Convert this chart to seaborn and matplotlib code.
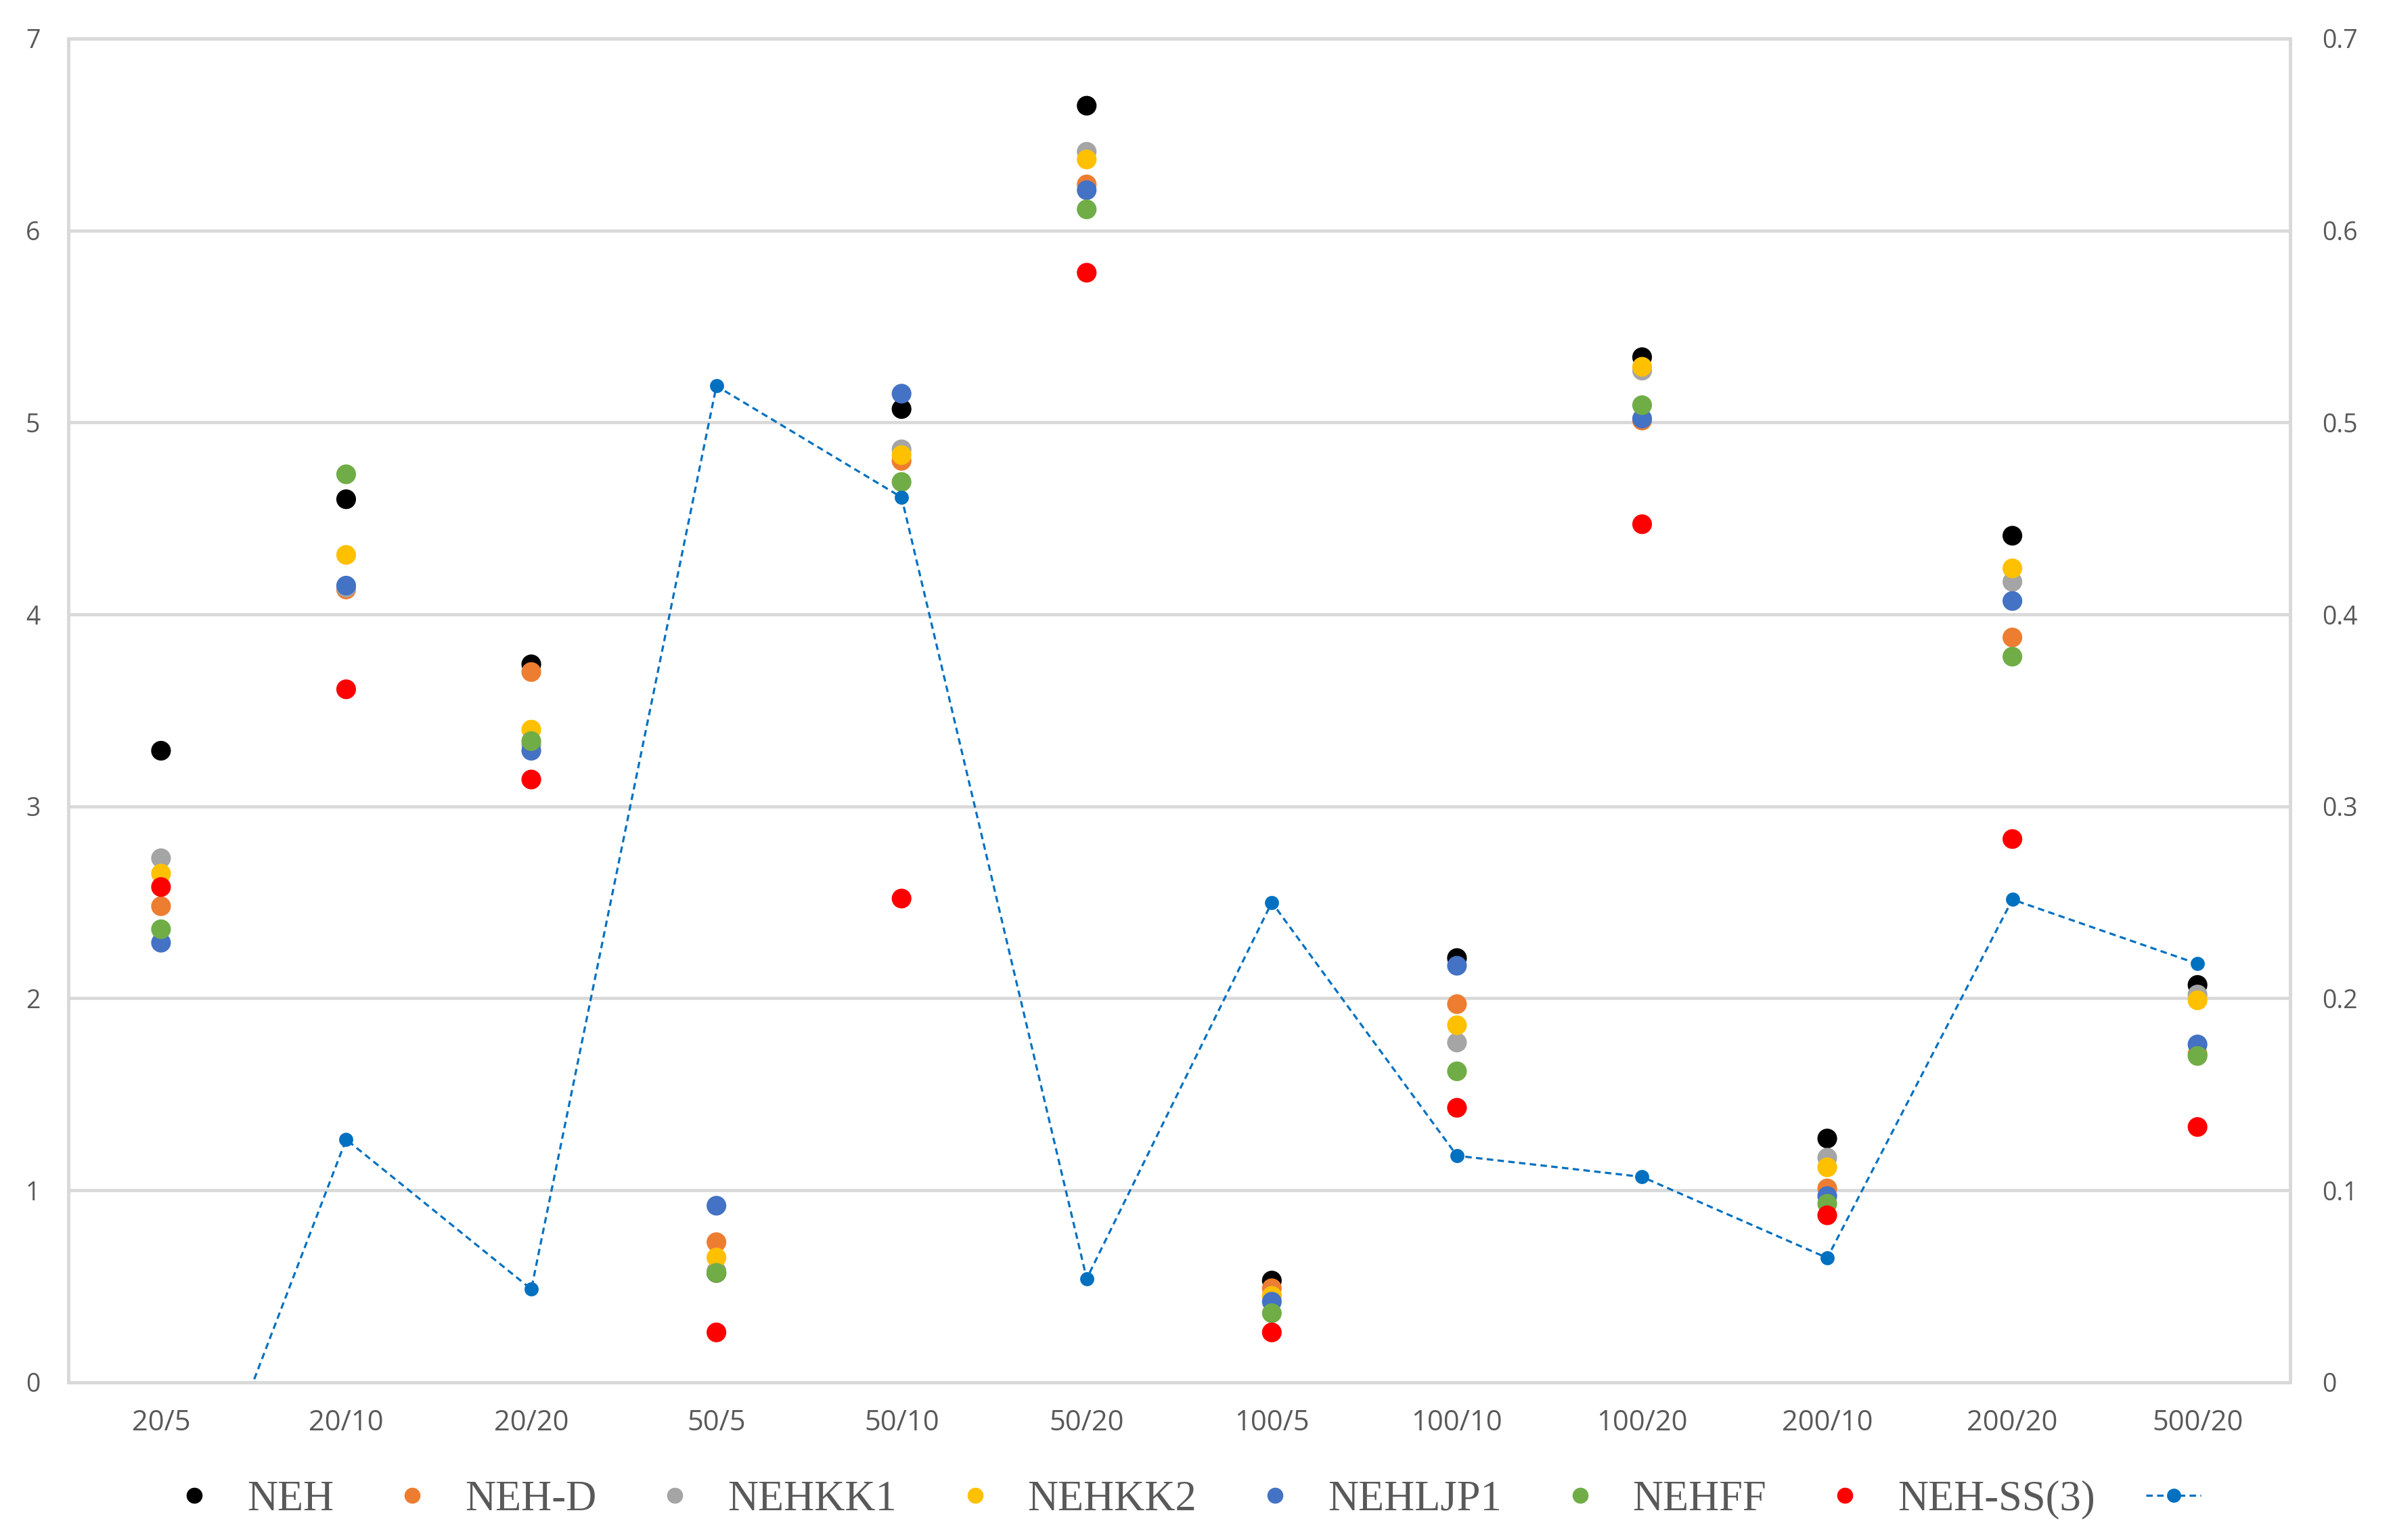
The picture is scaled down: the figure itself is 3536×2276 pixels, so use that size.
import numpy as np
import pandas as pd
import seaborn as sns
import matplotlib.pyplot as plt
from matplotlib.lines import Line2D

# ------------------------------------------------------------------
# data
# ------------------------------------------------------------------
instances = ['20/5', '20/10', '20/20', '50/5', '50/10', '50/20',
             '100/5', '100/10', '100/20', '200/10', '200/20', '500/20']

neh     = [3.29, 4.60, 3.74, 0.57, 5.07, 6.65, 0.53, 2.21, 5.34, 1.27, 4.41, 2.07]
neh_d   = [2.48, 4.13, 3.70, 0.73, 4.80, 6.24, 0.49, 1.97, 5.01, 1.01, 3.88, 1.71]
nehkk1  = [2.73, 4.14, 3.32, 0.58, 4.86, 6.41, 0.45, 1.77, 5.27, 1.17, 4.17, 2.02]
nehkk2  = [2.65, 4.31, 3.40, 0.65, 4.83, 6.37, 0.45, 1.86, 5.29, 1.12, 4.24, 1.99]
nehljp1 = [2.29, 4.15, 3.29, 0.92, 5.15, 6.21, 0.42, 2.17, 5.02, 0.97, 4.07, 1.76]
nehff   = [2.36, 4.73, 3.34, 0.57, 4.69, 6.11, 0.36, 1.62, 5.09, 0.93, 3.78, 1.70]
neh_ss3 = [2.58, 3.61, 3.14, 0.26, 2.52, 5.78, 0.26, 1.43, 4.47, 0.87, 2.83, 1.33]

# secondary axis series (dashed blue line)
secondary = [-0.125, 0.1265, 0.0485, 0.519, 0.461, 0.054,
             0.250, 0.118, 0.107, 0.0648, 0.2515, 0.218]

series_names = ['NEH', 'NEH-D', 'NEHKK1', 'NEHKK2', 'NEHLJP1', 'NEHFF', 'NEH-SS(3)']
series_vals = [neh, neh_d, nehkk1, nehkk2, nehljp1, nehff, neh_ss3]
colors = ['#000000', '#ED7D31', '#A5A5A5', '#FFC000', '#4472C4', '#70AD47', '#FF0000']
line_color = '#0070C0'

long_df = pd.concat(
    [pd.DataFrame({'instance': instances, 'value': v, 'method': n})
     for n, v in zip(series_names, series_vals)],
    ignore_index=True)
line_df = pd.DataFrame({'instance': instances, 'value': secondary})

# ------------------------------------------------------------------
# plot
# ------------------------------------------------------------------
sns.set_theme(style='white')
plt.rcParams['font.family'] = ['Open Sans', 'DejaVu Sans']

fig = plt.figure(figsize=(35.36, 22.76), dpi=100)
ax = fig.add_axes([0.0286, 0.1024, 0.9284, 0.8726])

sns.scatterplot(data=long_df, x='instance', y='value', hue='method',
                hue_order=series_names, palette=colors, s=440,
                linewidth=0, legend=False, ax=ax, zorder=3)

ax2 = ax.twinx()
sns.lineplot(data=line_df, x='instance', y='value', color=line_color,
             lw=2.3, dashes=False, marker='o', markersize=15,
             markeredgewidth=0, ax=ax2, sort=False, zorder=3)
ax2.lines[0].set_dashes((3, 2))

ax.set_ylim(0, 7)
ax2.set_ylim(0, 0.7)
ax.set_xlim(-0.5, len(instances) - 0.5)
ax.set_yticks(range(0, 8))
ax2.set_yticks(np.arange(0, 0.71, 0.1))
ax2.set_yticklabels(['0'] + [f'{t:.1f}' for t in np.arange(0.1, 0.71, 0.1)])

grid_c = '#D9D9D9'
ax.grid(axis='y', color=grid_c, lw=3.4)
ax.set_axisbelow(True)
for a in (ax, ax2):
    a.set_xlabel('')
    a.set_ylabel('')
    for sp in a.spines.values():
        sp.set_color(grid_c)
        sp.set_linewidth(3.4)
    a.tick_params(length=0, labelsize=27, labelcolor='#595959')
ax.tick_params(axis='y', pad=30)
ax.tick_params(axis='x', pad=28, labelsize=30)
ax2.tick_params(axis='y', pad=34)

# legend
handles = [Line2D([], [], ls='', marker='o', markersize=17, color=c,
                  markeredgewidth=0) for c in colors]
handles.append(Line2D([], [], color=line_color, lw=2.3, dashes=(3, 2),
                      marker='o', markersize=15, markeredgewidth=0))
labels = series_names + ['']
fig.legend(handles, labels, loc='center', bbox_to_anchor=(0.5, 0.026),
           ncol=8, frameon=False, handlelength=1.3, columnspacing=1.2,
           handletextpad=0.6,
           prop={'family': 'Liberation Serif', 'size': 45},
           labelcolor='#595959')

plt.savefig('out.png', dpi=100)
